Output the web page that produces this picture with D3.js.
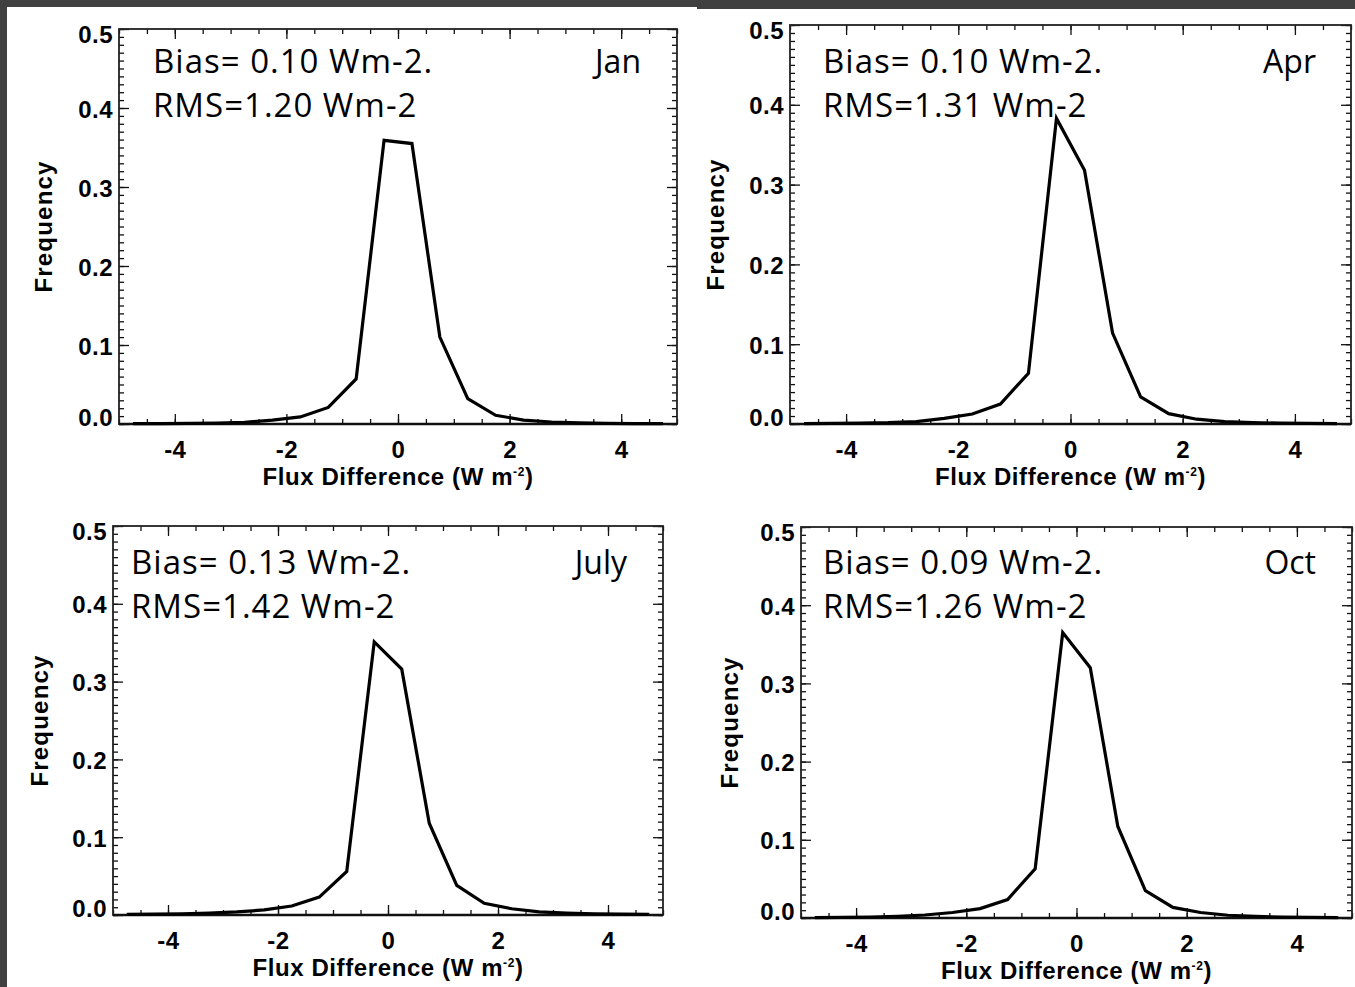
<!DOCTYPE html>
<html><head><meta charset="utf-8">
<script src="https://cdn.jsdelivr.net/npm/d3@7"></script>
<style>
body{margin:0;background:#fff;}
svg{display:block;}
</style></head><body>
<svg id="chart" width="1355" height="987"></svg>
<script>
// ---- data ----
const binCenters = [-4.75,-4.25,-3.75,-3.25,-2.75,-2.25,-1.75,-1.25,-0.75,-0.25,0.25,0.75,1.25,1.75,2.25,2.75,3.25,3.75,4.25,4.75];
const janFreq = [0.0005,0.0006,0.0008,0.0012,0.002,0.005,0.009,0.021,0.057,0.359,0.355,0.110,0.032,0.011,0.005,0.0025,0.0014,0.0009,0.0006,0.0004];
const aprFreq = [0.0005,0.0007,0.001,0.0016,0.003,0.007,0.0125,0.025,0.0635,0.383,0.318,0.114,0.034,0.013,0.006,0.003,0.0018,0.001,0.0007,0.0005];
const julFreq = [0.0007,0.001,0.0015,0.0025,0.004,0.0065,0.0115,0.023,0.056,0.351,0.316,0.118,0.038,0.015,0.008,0.004,0.0025,0.0015,0.001,0.0007];
const octFreq = [0.0005,0.0008,0.0013,0.0022,0.0038,0.007,0.012,0.0236,0.063,0.365,0.320,0.117,0.035,0.0135,0.007,0.0035,0.002,0.0012,0.0008,0.0005];
const months = ["Jan","Apr","July","Oct"];
const biasText = ["Bias= 0.10 Wm-2.","Bias= 0.10 Wm-2.","Bias= 0.13 Wm-2.","Bias= 0.09 Wm-2."];
const rmsText = ["RMS=1.20 Wm-2","RMS=1.31 Wm-2","RMS=1.42 Wm-2","RMS=1.26 Wm-2"];
const xTickValues = [-4,-2,0,2,4];
const xMinorValues = d3.range(-5,5.01,0.5);
const yTickValues = [0,0.1,0.2,0.3,0.4,0.5];
const yMinorValues = d3.range(0,0.5001,0.01);
const xDomain = [-5,5];
const yDomain = [0,0.5];
const xTitle = "Flux Difference (W m";
const xTitleSup = "-2";
const yTitle = "Frequency";
const series = [janFreq, aprFreq, julFreq, octFreq];

// ---- layout ----
const panels = [
  {l:119, r:677, t:29, b:424, tx:153, ty:[73,117], mr:641, yt:44},
  {l:790, r:1351, t:25, b:424, tx:823, ty:[73,117], mr:1316, yt:716},
  {l:113, r:663, t:526, b:915, tx:131, ty:[574,618], mr:627, yt:40},
  {l:801, r:1352, t:527, b:918, tx:823, ty:[574,618], mr:1316, yt:730}
];

const svg = d3.select("#chart");
svg.append("rect").attr("width",1355).attr("height",987).attr("fill","#fff");
svg.append("rect").attr("x",0).attr("y",0).attr("width",697).attr("height",7).attr("fill","#404040");
svg.append("rect").attr("x",697).attr("y",0).attr("width",658).attr("height",9).attr("fill","#404040");
svg.append("rect").attr("x",0).attr("y",0).attr("width",7).attr("height",987).attr("fill","#404040");

const axisFont = "'Liberation Sans', Arial, sans-serif";
const textFont = "'Open Sans', 'Noto Sans', sans-serif";
const plainNum = d => String(d);

panels.forEach((p, i) => {
  const x = d3.scaleLinear().domain(xDomain).range([p.l, p.r]);
  const y = d3.scaleLinear().domain(yDomain).range([p.b, p.t]);
  const g = svg.append("g");

  // minor ticks
  g.append("g").attr("transform",`translate(0,${p.b})`)
    .call(d3.axisBottom(x).tickValues(xMinorValues).tickSize(-5).tickFormat(""));
  g.append("g").attr("transform",`translate(0,${p.t})`)
    .call(d3.axisTop(x).tickValues(xMinorValues).tickSize(-5).tickFormat(""));
  g.append("g").attr("transform",`translate(${p.l},0)`)
    .call(d3.axisLeft(y).tickValues(yMinorValues).tickSize(-5).tickFormat(""));
  g.append("g").attr("transform",`translate(${p.r},0)`)
    .call(d3.axisRight(y).tickValues(yMinorValues).tickSize(-5).tickFormat(""));
  // major ticks
  g.append("g").attr("transform",`translate(0,${p.b})`)
    .call(d3.axisBottom(x).tickValues(xTickValues).tickSize(-10).tickPadding(17).tickFormat(plainNum));
  g.append("g").attr("transform",`translate(0,${p.t})`)
    .call(d3.axisTop(x).tickValues(xTickValues).tickSize(-10).tickFormat(""));
  const ay = g.append("g").attr("transform",`translate(${p.l},0)`)
    .call(d3.axisLeft(y).tickValues(yTickValues).tickSize(-10).tickPadding(6).tickFormat(d3.format(".1f")));
  g.append("g").attr("transform",`translate(${p.r},0)`)
    .call(d3.axisRight(y).tickValues(yTickValues).tickSize(-10).tickFormat(""));

  g.selectAll(".domain").remove();
  g.selectAll(".tick line").attr("stroke","#111").attr("stroke-width",1.3);
  g.selectAll(".tick text").attr("fill","#000").style("font-family",axisFont)
    .style("font-weight","bold").style("font-size","24px").style("letter-spacing","0.5px");
  ay.selectAll(".tick text").attr("dy", d => d === 0 ? "0.05em" : (d === 0.5 ? "0.55em" : "0.38em"));

  // frame
  g.append("rect").attr("x",p.l).attr("y",p.t).attr("width",p.r-p.l).attr("height",p.b-p.t)
    .attr("fill","none").attr("stroke","#222").attr("stroke-width",1.8);
  g.append("line").attr("x1",p.l).attr("x2",p.r).attr("y1",p.b).attr("y2",p.b)
    .attr("stroke","#111").attr("stroke-width",2.4);

  // curve
  const line = d3.line().x((d,k) => x(binCenters[k])).y(d => y(d));
  g.append("path").datum(series[i]).attr("d",line).attr("fill","none")
    .attr("stroke","#000").attr("stroke-width",3.2).attr("stroke-linejoin","miter");

  // axis titles
  const xt = g.append("text").attr("x",(p.l+p.r)/2).attr("y",p.b+61).attr("text-anchor","middle")
    .style("font-family",axisFont).style("font-weight","bold").style("font-size","24px").style("letter-spacing","0.6px");
  xt.append("tspan").text(xTitle);
  xt.append("tspan").attr("dy","-9").style("font-size","12px").text(xTitleSup);
  xt.append("tspan").attr("dy","9").text(")");

  g.append("text").attr("transform",`translate(${p.yt},${(p.t+p.b)/2}) rotate(-90)`)
    .attr("text-anchor","middle").attr("dy","0.35em")
    .style("font-family",axisFont).style("font-weight","bold").style("font-size","24px").style("letter-spacing","1.2px")
    .text(yTitle);

  // annotations
  const ann = [biasText[i], rmsText[i]];
  ann.forEach((t, k) => {
    g.append("text").attr("x",p.tx).attr("y",p.ty[k])
      .style("font-family",textFont).style("font-size","33px").style("letter-spacing","1px")
      .attr("fill","#000").text(t);
  });
  g.append("text").attr("x",p.mr).attr("y",p.ty[0]).attr("text-anchor","end")
    .style("font-family",textFont).style("font-size","32px").attr("fill","#000").text(months[i]);
});
</script>
</body></html>
